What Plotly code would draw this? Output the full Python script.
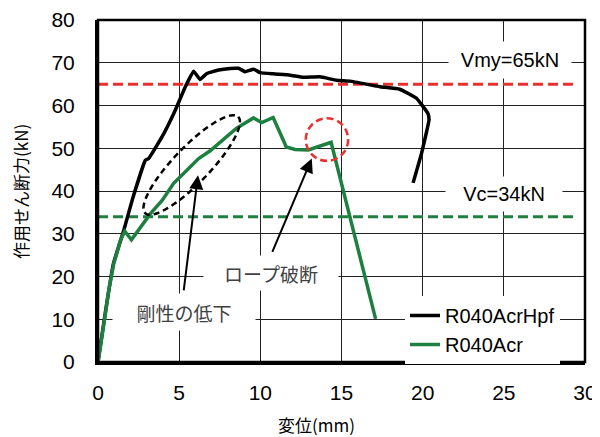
import numpy as np
import plotly.graph_objects as go

# ---------------- data ----------------
hpf_x = [0, 0.45, 0.95, 1.59, 2.1, 2.92, 3.12, 3.95, 4.76, 5.38, 5.89, 6.28, 6.71, 7.43,
         8.45, 8.66, 9.07, 9.58, 9.99, 10.8, 11.83, 12.65, 13.68, 14.7, 15.52, 17.36,
         18.59, 19.62, 20.33, 20.39, 19.93, 19.41]
hpf_y = [0, 11.5, 23.0, 30.8, 37.8, 47.2, 47.6, 52.7, 58.9, 64.4, 68.0, 66.1, 67.5, 68.3,
         68.7, 68.7, 67.9, 68.5, 67.7, 67.4, 67.1, 66.6, 66.7, 65.9, 65.7, 64.4,
         63.8, 61.7, 58.1, 56.6, 48.8, 41.9]

acr_x = [0, 0.26, 0.46, 0.66, 0.97, 1.18, 1.38, 1.65, 2.06, 3.23, 3.95, 4.66, 6.2, 6.91,
         8.5, 9.58, 10.09, 10.79, 11.6, 12.14, 12.96, 14.36, 17.1]
acr_y = [0, 5.8, 11.4, 16.8, 23.0, 25.7, 28.5, 30.6, 28.6, 34.7, 37.8, 41.8, 47.6, 49.4,
         54.6, 57.1, 56.0, 57.2, 50.3, 49.7, 49.6, 51.4, 10.1]

series_names = ["R040AcrHpf", "R040Acr"]
vmy = 65
vc = 34
ref_x = [0, 29.4]
x_ticks = [0, 5, 10, 15, 20, 25, 30]
y_ticks = [0, 10, 20, 30, 40, 50, 60, 70, 80]

BLACK = "#000000"
GREEN = "#1E8040"
RED = "#E8302C"
NUM_FONT = "Arial, Liberation Sans, sans-serif"
JP_FONT = "Noto Sans CJK JP, sans-serif"

fig = go.Figure()

fig.add_trace(go.Scatter(x=ref_x, y=[vmy, vmy], mode="lines", showlegend=False,
                         line=dict(color=RED, width=3, dash="10px,5px"), hoverinfo="skip"))
fig.add_trace(go.Scatter(x=ref_x, y=[vc, vc], mode="lines", showlegend=False,
                         line=dict(color=GREEN, width=3, dash="10px,5px"), hoverinfo="skip"))
fig.add_trace(go.Scatter(x=hpf_x, y=hpf_y, mode="lines", name=series_names[0],
                         line=dict(color=BLACK, width=3.5, shape="spline", smoothing=0.3)))
fig.add_trace(go.Scatter(x=acr_x, y=acr_y, mode="lines", name=series_names[1],
                         line=dict(color=GREEN, width=3.5)))

# layout geometry (page body has an 8px margin, so the figure is 8px smaller)
OFF = 8
W, H = 600 - OFF, 437 - OFF
L, R, T, B = 98 - OFF, 15, 20 - OFF, 75
pw, ph = W - L - R, H - T - B
sx, sy = pw / 30.0, ph / 80.0

def to_data(px, py):
    # px, py are page pixels of the reference picture
    return (px - (L + OFF)) / sx, ((H + OFF - B) - py) / sy

# dashed ellipse (rotated), computed in pixel space
cx, cy = 191.7, 165.0
ang = np.arctan2(-93.4, 90.0)
t = np.linspace(0, 2 * np.pi, 73)
a, b = 67.0, 18.0
ex = cx + a * np.cos(t) * np.cos(ang) - b * np.sin(t) * np.sin(ang)
ey = cy + a * np.cos(t) * np.sin(ang) + b * np.sin(t) * np.cos(ang)
pts = [to_data(px, py) for px, py in zip(ex, ey)]
path = "M " + " L ".join(f"{p[0]:.4f},{p[1]:.4f}" for p in pts) + " Z"

shapes = [
    dict(type="path", path=path, xref="x", yref="y",
         line=dict(color=BLACK, width=2.5, dash="6px,4px")),
    dict(type="circle", xref="x", yref="y", x0=12.8, x1=15.41, y0=47.05, y1=57.0,
         line=dict(color=RED, width=2.5, dash="7px,4px")),
    dict(type="rect", xref="paper", yref="paper", x0=0, x1=1, y0=0, y1=1,
         line=dict(color=BLACK, width=2.5), layer="above"),
]

annotations = [
    dict(x=25.35, y=70.6, text="Vmy=65kN", showarrow=False, bgcolor="white",
         width=122, height=36, borderpad=0, font=dict(family=NUM_FONT, size=20, color=BLACK)),
    dict(x=25.0, y=39.2, text="Vc=34kN", showarrow=False, bgcolor="white",
         width=116, height=34, borderpad=0, font=dict(family=NUM_FONT, size=20, color=BLACK)),
    dict(x=10.67, y=20.9, text="ロープ破断", showarrow=False, bgcolor="white",
         width=134, height=34, borderpad=0, font=dict(family=JP_FONT, size=19, color="#404040")),
    dict(x=5.27, y=11.8, text="剛性の低下", showarrow=False, bgcolor="white",
         width=142, height=36, borderpad=0, font=dict(family=JP_FONT, size=19, color="#404040")),
    dict(x=6.16, y=43.7, ax=5.27, ay=16.4, axref="x", ayref="y", text="", showarrow=True,
         arrowhead=2, arrowsize=1.4, arrowwidth=2, arrowcolor=BLACK, standoff=0, startstandoff=0),
    dict(x=13.17, y=47.6, ax=10.7, ay=25.4, axref="x", ayref="y", text="", showarrow=True,
         arrowhead=2, arrowsize=1.4, arrowwidth=2, arrowcolor=BLACK, standoff=0, startstandoff=0),
    dict(x=(20 - L - OFF) / pw, y=((H + OFF - B) - 192) / ph, xref="paper", yref="paper",
         xanchor="center", yanchor="middle", text="作用せん断力(kN)", textangle=-90,
         showarrow=False, font=dict(family=JP_FONT, size=17, color=BLACK)),
    dict(x=(316 - L - OFF) / pw, y=-(425 - (H + OFF - B)) / ph, xref="paper", yref="paper",
         xanchor="center", yanchor="middle", text="変位(mm)",
         showarrow=False, font=dict(family=JP_FONT, size=17, color=BLACK)),
]

fig.update_layout(
    width=W, height=H,
    margin=dict(l=L, r=R, t=T, b=B, autoexpand=False),
    plot_bgcolor="white", paper_bgcolor="white",
    shapes=shapes, annotations=annotations,
    legend=dict(x=(405 - L - OFF) / pw, y=((H + OFF - B) - 296) / ph, xanchor="left", yanchor="top",
                bgcolor="white", font=dict(family=NUM_FONT, size=20, color=BLACK),
                tracegroupgap=0, itemwidth=30),
    xaxis=dict(range=[0, 30], tickvals=x_ticks, ticktext=[str(v) for v in x_ticks],
               showgrid=True, gridcolor="#222222", gridwidth=1.3, zeroline=False,
               showline=True, linecolor=BLACK, linewidth=3, ticks="", automargin=False,
               ticklabelstandoff=10, tickfont=dict(family=NUM_FONT, size=21, color=BLACK)),
    yaxis=dict(range=[0, 80], tickvals=y_ticks, ticktext=[str(v) for v in y_ticks],
               showgrid=True, gridcolor="#222222", gridwidth=1.3, zeroline=False,
               showline=True, linecolor=BLACK, linewidth=3, ticks="", automargin=False,
               ticklabelstandoff=16, tickfont=dict(family=NUM_FONT, size=21, color=BLACK)),
    showlegend=True,
)

fig.write_html("out.html")
